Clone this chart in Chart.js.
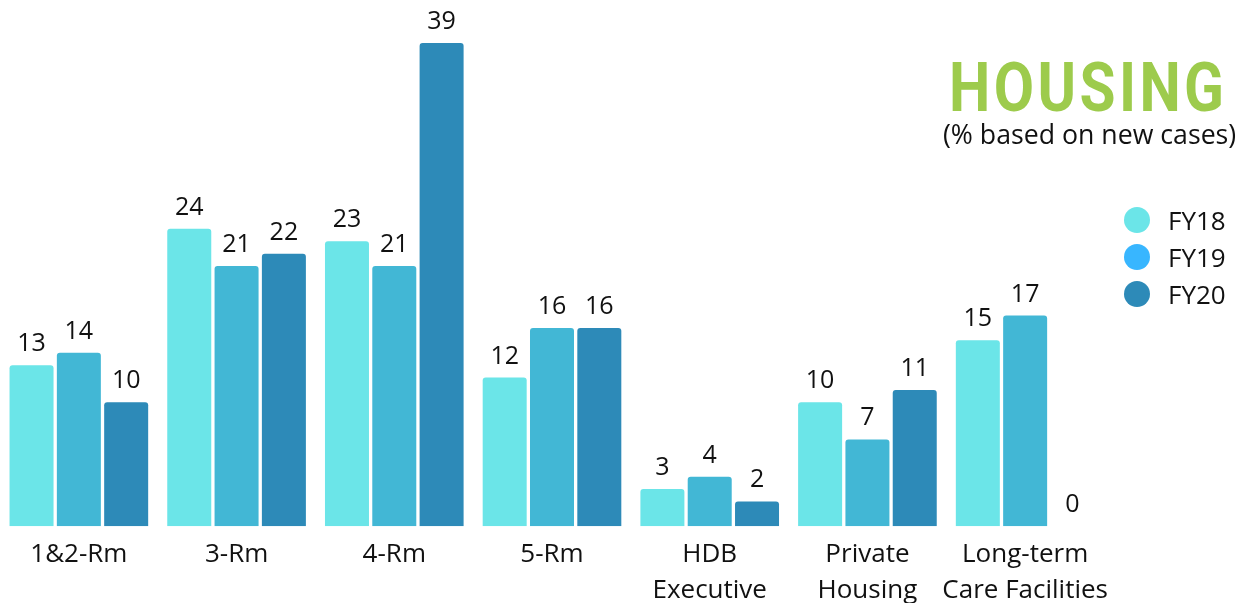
<!DOCTYPE html>
<html>
<head>
<meta charset="utf-8">
<script src="https://cdn.jsdelivr.net/npm/chart.js@4"></script>
<style>
  html, body { margin: 0; padding: 0; background: #fff; overflow: hidden; }
  .wrap { position: relative; width: 1242px; height: 603px; overflow: hidden; }
  .title { position: absolute; left: 929px; top: 44px; width: 285px; text-align: center;
    font-family: Roboto, sans-serif; font-weight: 700; font-size: 68px; color: #9DCB4C;
    letter-spacing: 4px; transform: scaleX(0.86); transform-origin: center; line-height: 88px; }
  .subtitle { position: absolute; left: 943px; top: 115px; font-family: "Open Sans", sans-serif;
    font-size: 26.7px; color: #111; white-space: nowrap; }
  .legend { position: absolute; left: 1124px; top: 201px; font-family: "Open Sans", sans-serif;
    font-size: 26px; color: #111; }
  .legend div { display: flex; align-items: center; height: 37px; }
  .legend span.dot { width: 26px; height: 26px; border-radius: 50%; margin-right: 18px; display: inline-block; }
</style>
</head>
<body>
<div class="wrap">
  <canvas id="chart" width="1242" height="611"></canvas>
  <div class="title">HOUSING</div>
  <div class="subtitle">(% based on new cases)</div>
  <div class="legend" id="legend"></div>
</div>
<script>
const categories = [['1&2-Rm'], ['3-Rm'], ['4-Rm'], ['5-Rm'], ['HDB', 'Executive'], ['Private', 'Housing'], ['Long-term', 'Care Facilities']];
const seriesNames = ['FY18', 'FY19', 'FY20'];
const fy18 = [13, 24, 23, 12, 3, 10, 15];
const fy19 = [14, 21, 21, 16, 4, 7, 17];
const fy20 = [10, 22, 39, 16, 2, 11, 0];
const barColors = ['#6BE5E8', '#42B7D5', '#2D8AB8'];
const legendColors = ['#6BE5E8', '#38B6FF', '#2D8AB8'];

const legend = document.getElementById('legend');
seriesNames.forEach((name, i) => {
  legend.innerHTML += `<div><span class="dot" style="background:${legendColors[i]}"></span>${name}</div>`;
});

// value labels above each bar
const valueLabels = {
  id: 'valueLabels',
  afterDatasetsDraw(chart) {
    const ctx = chart.ctx;
    ctx.save();
    ctx.font = '25px "Open Sans"';
    ctx.fillStyle = '#111';
    ctx.textAlign = 'center';
    ctx.textBaseline = 'alphabetic';
    chart.data.datasets.forEach((ds, di) => {
      chart.getDatasetMeta(di).data.forEach((bar, i) => {
        ctx.fillText(ds.data[i], bar.x, bar.y - 14);
      });
    });
    ctx.restore();
  }
};

const data = {
  labels: categories,
  datasets: [fy18, fy19, fy20].map((values, i) => ({
    label: seriesNames[i],
    data: values,
    backgroundColor: barColors[i],
    borderRadius: { topLeft: 3, topRight: 3 },
    borderSkipped: 'bottom',
    categoryPercentage: 0.9,
    barPercentage: 0.93,
  })),
};

new Chart(document.getElementById('chart'), {
  type: 'bar',
  data,
  options: {
    responsive: false,
    animation: false,
    layout: { padding: { left: 0, right: 138, top: 43, bottom: 0 } },
    plugins: { legend: { display: false }, tooltip: { enabled: false } },
    scales: {
      x: {
        grid: { display: false },
        border: { display: false },
        ticks: {
          color: '#111',
          padding: 2,
          maxRotation: 0,
          minRotation: 0,
          autoSkip: false,
          font: { family: 'Open Sans', size: 26, lineHeight: 1.4 },
        },
      },
      y: { display: false, min: 0, max: 39 },
    },
  },
  plugins: [valueLabels],
});
</script>
</body>
</html>
